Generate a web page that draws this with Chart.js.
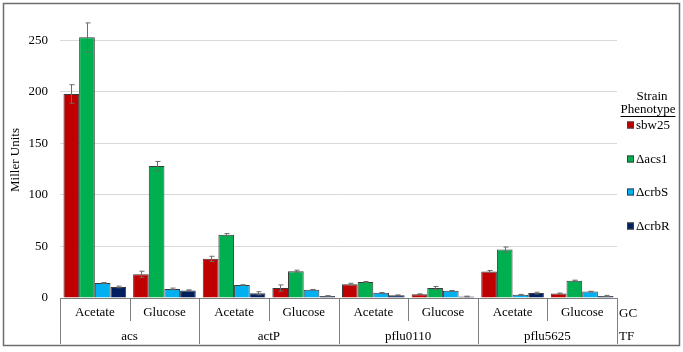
<!DOCTYPE html>
<html>
<head>
<meta charset="utf-8">
<script src="https://cdn.jsdelivr.net/npm/chart.js@4"></script>
<style>
  body { margin: 0; background: #fff; }
  #wrap { width: 683px; height: 352px; }
</style>
</head>
<body>
<div id="wrap"><canvas id="chartMiller" width="683" height="352"></canvas></div>
<script>
// categories: growth condition (GC) inside transcription factor (TF)
const conditions = ["Acetate", "Glucose", "Acetate", "Glucose", "Acetate", "Glucose", "Acetate", "Glucose"];
const genes = ["acs", "actP", "pflu0110", "pflu5625"];
const yTicks = [0, 50, 100, 150, 200, 250];

// series (Miller Units) and their error bars
const sbw25 = [198, 23, 38, 9.7, 13.3, 3.7, 25.7, 4.3];
const sbw25Err = [9, 3, 2.5, 3, 1, 0.3, 1, 0.5];
const acs1 = [253, 128, 61.5, 26, 15.5, 9.7, 47, 16.8];
const acs1Err = [14, 4.5, 1, 1, 0.5, 1.5, 2.5, 0.5];
const crbS = [14.5, 8.8, 12.6, 8, 5, 7, 3.2, 6.2];
const crbSErr = [0.5, 0.8, 0.3, 0.3, 0.3, 0.3, 0.3, 0.3];
const crbR = [10.7, 7.4, 4.6, 2, 2.7, 1.5, 4.8, 2];
const crbRErr = [0.8, 0.5, 1.5, 0.3, 0.3, 0.3, 0.8, 0.5];

const seriesNames = ["sbw25", "\u0394acs1", "\u0394crbS", "\u0394crbR"];
const seriesColors = ["#C00000", "#00B050", "#00B0F0", "#002060"];
const errors = [sbw25Err, acs1Err, crbSErr, crbRErr];

const FONT = "13px 'Liberation Serif', 'Times New Roman', serif";

const errorBars = {
  id: "errorBars",
  afterDatasetsDraw(chart) {
    const ctx = chart.ctx;
    const y = chart.scales.y;
    ctx.save();
    ctx.strokeStyle = "#6b6b6b";
    ctx.lineWidth = 1;
    chart.data.datasets.forEach((ds, di) => {
      const meta = chart.getDatasetMeta(di);
      meta.data.forEach((bar, i) => {
        const v = ds.data[i];
        const e = errors[di][i];
        const x = Math.round(bar.x) + 0.5;
        const top = y.getPixelForValue(v + e);
        const bot = y.getPixelForValue(v - e);
        ctx.beginPath();
        ctx.moveTo(x, top); ctx.lineTo(x, bot);
        ctx.moveTo(x - 2, top); ctx.lineTo(x + 3, top);
        ctx.moveTo(x - 2, bot); ctx.lineTo(x + 3, bot);
        ctx.stroke();
      });
    });
    ctx.restore();
  }
};

const decorations = {
  id: "decorations",
  afterDraw(chart) {
    const ctx = chart.ctx;
    const xs = chart.scales.x;
    const area = chart.chartArea;
    const step = (area.right - area.left) / conditions.length;
    ctx.save();
    ctx.font = FONT;
    ctx.fillStyle = "#000";
    ctx.textBaseline = "middle";
    ctx.textAlign = "center";

    // y axis title
    ctx.save();
    ctx.translate(16, 160);
    ctx.rotate(-Math.PI / 2);
    ctx.fillText("Miller Units", 0, 0);
    ctx.restore();

    // separators under the axis
    ctx.strokeStyle = "#7f7f7f";
    ctx.lineWidth = 1;
    for (let k = 0; k <= conditions.length; k++) {
      const x = Math.round(area.left + k * step) + 0.5;
      ctx.beginPath();
      ctx.moveTo(x, area.bottom);
      ctx.lineTo(x, k % 2 === 0 ? 344 : 321);
      ctx.stroke();
    }

    conditions.forEach((c, i) => {
      ctx.fillText(c, xs.getPixelForValue(i), 313);
    });
    genes.forEach((g, i) => {
      ctx.fillText(g, (xs.getPixelForValue(2 * i) + xs.getPixelForValue(2 * i + 1)) / 2, 337);
    });
    ctx.textAlign = "left";
    ctx.fillText("GC", 619, 314);
    ctx.fillText("TF", 619, 337);

    // legend
    ctx.textAlign = "center";
    ctx.fillText("Strain", 652, 97);
    ctx.fillText("Phenotype", 648, 110);
    const w = ctx.measureText("Phenotype").width;
    ctx.beginPath();
    ctx.moveTo(648 - w / 2, 116.5);
    ctx.lineTo(648 + w / 2, 116.5);
    ctx.strokeStyle = "#000";
    ctx.stroke();
    const rows = [125, 159, 192, 226];
    ctx.textAlign = "left";
    seriesNames.forEach((n, i) => {
      ctx.fillStyle = seriesColors[i];
      ctx.fillRect(627, rows[i] - 3.5, 7, 7);
      ctx.strokeStyle = "#404040";
      ctx.strokeRect(627.5, rows[i] - 3, 6, 6);
      ctx.fillStyle = "#000";
      ctx.fillText(n, 636, rows[i] + 1);
    });

    // outer frame
    ctx.strokeStyle = "#6d6d6d";
    ctx.lineWidth = 1.5;
    ctx.strokeRect(3.5, 3.5, 676, 342);
    ctx.restore();
  }
};

const data = {
  labels: conditions,
  datasets: [sbw25, acs1, crbS, crbR].map((vals, i) => ({
    label: seriesNames[i],
    data: vals,
    backgroundColor: seriesColors[i],
    borderColor: "#3a3a3a",
    borderWidth: 1,
    categoryPercentage: 0.9,
    barPercentage: 1.0,
  })),
};

const config = {
  type: "bar",
  data,
  options: {
    responsive: false,
    animation: false,
    events: [],
    layout: { padding: { left: 3, right: 66, top: 14, bottom: 0 } },
    plugins: {
      legend: { display: false },
      tooltip: { enabled: false },
    },
    scales: {
      x: {
        ticks: { display: false },
        grid: { display: false, drawTicks: false },
        border: { display: true, color: "#7f7f7f", width: 1 },
        afterFit: (s) => { s.height = 54; },
      },
      y: {
        min: 0,
        max: 270,
        afterBuildTicks: (s) => { s.ticks = yTicks.map((v) => ({ value: v })); },
        afterFit: (s) => { s.width = 57; },
        ticks: {
          padding: 12,
          color: "#000",
          font: { family: "'Liberation Serif', 'Times New Roman', serif", size: 13 },
        },
        grid: { color: "#d9d9d9", drawTicks: false },
        border: { display: false },
      },
    },
  },
  plugins: [errorBars, decorations],
};

const chartMiller = new Chart(document.getElementById("chartMiller"), config);
</script>
</body>
</html>
